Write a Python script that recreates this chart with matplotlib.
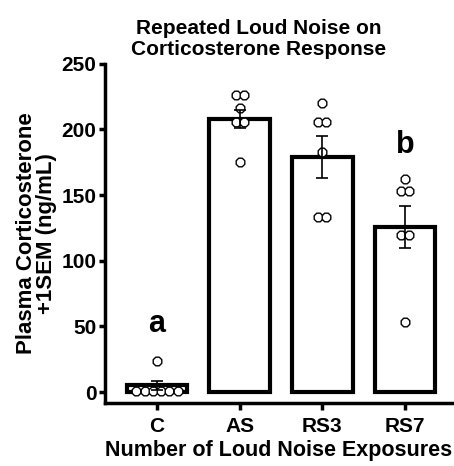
import numpy as np
import matplotlib
matplotlib.use("Agg")
from matplotlib import pyplot as plt

# data
groups = ["C", "AS", "RS3", "RS7"]
means = [5, 208, 179, 126]
sems = [3.5, 7, 16, 16]
points = [
    [24, 1, 1, 1, 1, 1, 1],
    [226, 226, 216, 206, 206, 175],
    [220, 206, 206, 183, 133, 133],
    [162, 153, 153, 120, 120, 53],
]
letters = {0: "a", 3: "b"}
letter_y = [46, None, None, 182]


def spread(vals, step=0.1):
    # put equal values side by side around the bar centre
    offs = np.zeros(len(vals))
    vals = np.asarray(vals)
    for v in np.unique(vals):
        idx = np.where(vals == v)[0]
        n = len(idx)
        offs[idx] = (np.arange(n) - (n - 1) / 2) * step
    return offs


if __name__ == '__main__':
    plt.rcParams['font.family'] = ['Liberation Sans', 'DejaVu Sans']
    plt.rcParams['font.weight'] = 'bold'

    fig = plt.figure(figsize=(4.54, 4.66), dpi=100)
    ax = fig.add_axes([0.231, 0.135, 0.765, 0.728])

    x = np.arange(len(groups))
    ax.bar(x, means, width=0.73, color="white", edgecolor="black",
           linewidth=3, zorder=2)
    for i, vals in enumerate(points):
        xs = x[i] + spread(vals, 0.1)
        ax.scatter(xs, vals, s=45, marker="8", facecolors="white",
                   edgecolors="black", linewidths=1.0, zorder=3)
    ax.errorbar(x, means, yerr=sems, fmt="none", ecolor="black",
                elinewidth=1.2, capsize=4, capthick=1.2, zorder=4)

    for i, lab in letters.items():
        ax.text(x[i], letter_y[i], lab, ha="center", va="baseline",
                fontsize=22, fontweight="bold")

    ax.set_xlim(-0.63, 3.57)
    ax.set_ylim(-8.4, 250)
    ax.set_yticks([0, 50, 100, 150, 200, 250])
    ax.set_xticks(x)
    ax.set_xticklabels(groups)
    ax.spines["top"].set_visible(False)
    ax.spines["right"].set_visible(False)
    ax.spines["left"].set_linewidth(2.5)
    ax.spines["bottom"].set_linewidth(2.5)
    ax.tick_params(axis="both", width=2.5, length=4, labelsize=15, pad=2)
    ax.tick_params(axis="x", length=5, pad=5)
    for t in ax.get_xticklabels() + ax.get_yticklabels():
        t.set_fontweight("bold")

    ax.set_xlabel("Number of Loud Noise Exposures", fontsize=15.5,
                  fontweight="bold", labelpad=3)
    ax.set_ylabel("Plasma Corticosterone\n+1SEM (ng/mL)", fontsize=16,
                  fontweight="bold", labelpad=3, linespacing=0.95)
    fig.text(0.57, 0.917, "Repeated Loud Noise on\nCorticosterone Response",
             ha="center", va="center", fontsize=15, fontweight="bold",
             linespacing=1.15)

    plt.savefig("out.png", dpi=100)
